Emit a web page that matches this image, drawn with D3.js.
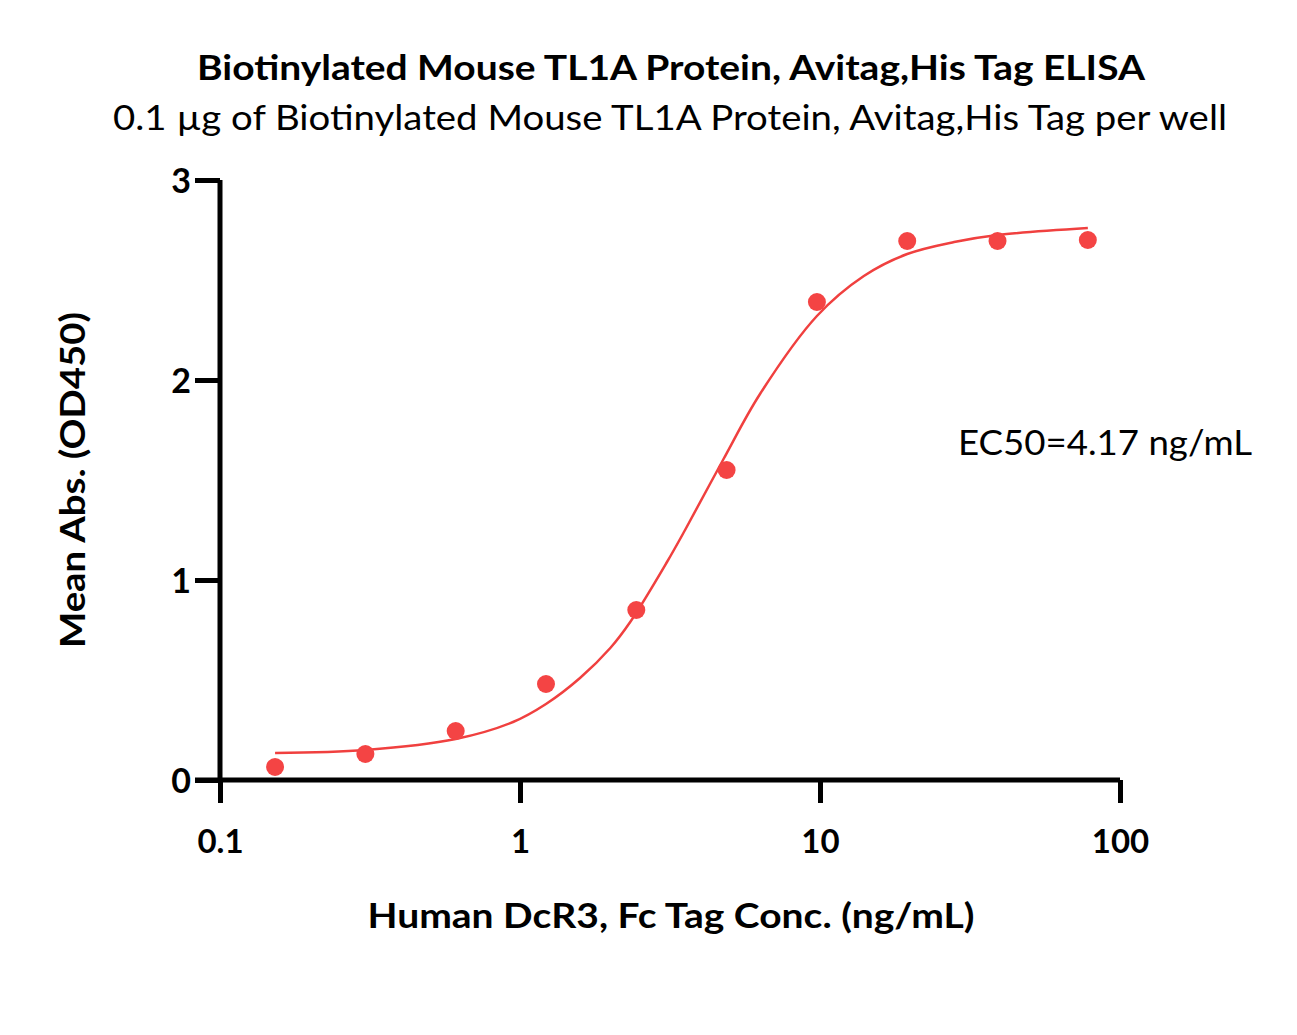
<!DOCTYPE html>
<html lang="en">
<head>
   <meta charset="UTF-8">
   <title>TL1A ELISA</title>
   <style>
      body { margin: 0; background: white; }
      text { font-family: Lato, "Open Sans", sans-serif; fill: black; }
      .bold { font-weight: 700; }
      .axis path, .axis line { stroke: black; stroke-width: 5; }
      path.fit { fill: none; stroke: #f0403f; stroke-width: 2.5; }
      circle.pt { fill: #f44444; }
   </style>
   <script src="https://cdn.jsdelivr.net/npm/d3@7"></script>
</head>
<body>
   <svg width="1297" height="1035"></svg>
   <script>
      // measured points
      const conc = [0.1526, 0.3052, 0.6104, 1.2207, 2.4414, 4.8828, 9.7656, 19.531, 39.063, 78.125]
      const absorb = [0.065, 0.13, 0.245, 0.48, 0.85, 1.55, 2.39, 2.695, 2.695, 2.70]

      // fitted curve
      const fitConc = [0.1526, 0.3052, 0.6104, 0.948, 1.2207, 1.585, 2.0, 2.33, 3.09, 3.55, 4.75, 6.31, 9.7656, 14, 19.531, 28, 39.063, 78.125]
      const fitAbs = [0.135, 0.15, 0.205, 0.29, 0.38, 0.51, 0.66, 0.79, 1.09, 1.25, 1.60, 1.93, 2.32, 2.52, 2.63, 2.69, 2.725, 2.76]

      const xTicks = [0.1, 1, 10, 100]
      const yTicks = [0, 1, 2, 3]

      const svg = d3.select('svg')

      const x = d3.scaleLog().domain([0.1, 100]).range([220, 1120])
      const y = d3.scaleLinear().domain([0, 3]).range([780, 180])

      // axes
      const xAxis = svg.append('g')
         .attr('class', 'axis')
         .attr('transform', 'translate(0,780)')
         .call(d3.axisBottom(x).tickValues(xTicks).tickFormat(d3.format('~g')).tickSize(23).tickSizeOuter(0))
      xAxis.select('.domain').attr('d', 'M195,0H1120')
      xAxis.selectAll('text')
         .attr('class', 'bold')
         .attr('font-size', 33)
         .attr('y', 73)
         .attr('dy', 0)

      const yAxis = svg.append('g')
         .attr('class', 'axis')
         .attr('transform', 'translate(220,0)')
         .call(d3.axisLeft(y).tickValues(yTicks).tickFormat(d3.format('d')).tickSize(25).tickSizeOuter(0))
      yAxis.select('.domain').attr('d', 'M0,180V780')
      yAxis.selectAll('text')
         .attr('class', 'bold')
         .attr('font-size', 34)
         .attr('x', -29)
         .attr('dy', '0.36em')

      // curve
      const line = d3.line()
         .x((d, i) => x(fitConc[i]))
         .y(d => y(d))
         .curve(d3.curveCatmullRom.alpha(0.5))

      svg.append('path')
         .attr('class', 'fit')
         .attr('d', line(fitAbs))

      svg.selectAll('circle.pt')
         .data(absorb)
         .enter()
         .append('circle')
            .attr('class', 'pt')
            .attr('cx', (d, i) => x(conc[i]))
            .attr('cy', d => y(d))
            .attr('r', 9)

      // texts
      svg.append('text')
         .attr('class', 'bold')
         .attr('x', 671).attr('y', 80)
         .attr('text-anchor', 'middle')
         .attr('font-size', 34)
         .attr('textLength', 948)
         .attr('lengthAdjust', 'spacingAndGlyphs')
         .text('Biotinylated Mouse TL1A Protein, Avitag,His Tag ELISA')

      svg.append('text')
         .attr('x', 670).attr('y', 130)
         .attr('text-anchor', 'middle')
         .attr('font-size', 34)
         .attr('textLength', 1114)
         .attr('lengthAdjust', 'spacingAndGlyphs')
         .text('0.1 µg of Biotinylated Mouse TL1A Protein, Avitag,His Tag per well')

      svg.append('text')
         .attr('class', 'bold')
         .attr('x', 671).attr('y', 928)
         .attr('text-anchor', 'middle')
         .attr('font-size', 34)
         .attr('textLength', 607)
         .attr('lengthAdjust', 'spacingAndGlyphs')
         .text('Human DcR3, Fc Tag Conc. (ng/mL)')

      svg.append('text')
         .attr('class', 'bold')
         .attr('transform', 'translate(85,480) rotate(-90)')
         .attr('text-anchor', 'middle')
         .attr('font-size', 34)
         .attr('textLength', 336)
         .attr('lengthAdjust', 'spacingAndGlyphs')
         .text('Mean Abs. (OD450)')

      svg.append('text')
         .attr('x', 958).attr('y', 455)
         .attr('font-size', 34)
         .attr('textLength', 294)
         .attr('lengthAdjust', 'spacingAndGlyphs')
         .text('EC50=4.17 ng/mL')
   </script>
</body>
</html>
